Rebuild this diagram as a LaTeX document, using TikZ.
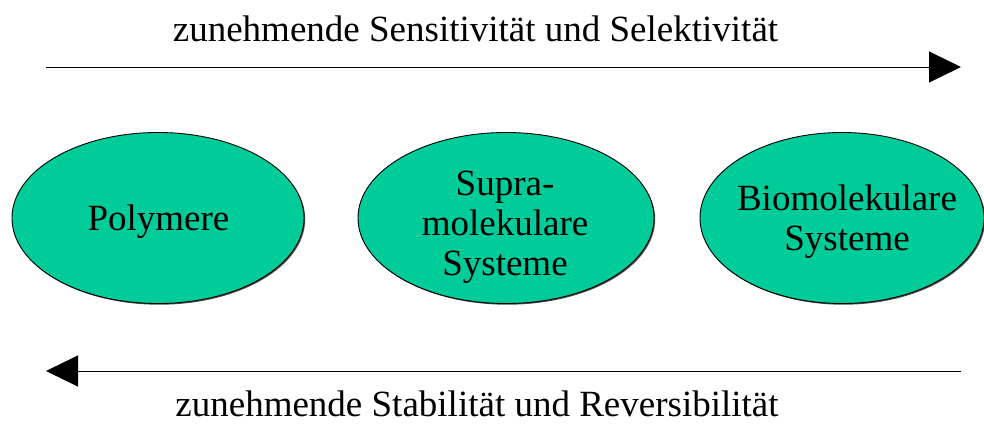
\documentclass[tikz,border=0pt]{standalone}
\usepackage{fontspec}
\setmainfont{Liberation Serif}
\usetikzlibrary{shapes.geometric,arrows.meta,shadows}
\definecolor{blobgreen}{RGB}{0,204,153}
\begin{document}
\begin{tikzpicture}[x=1pt,y=-1pt,
  blob/.style={ellipse, draw=black, line width=0.9pt, fill=blobgreen,
    inner sep=0pt, minimum height=171pt,
    drop shadow={shadow xshift=1.2pt, shadow yshift=-1.2pt, fill=black, opacity=0.7}},
  bigtext/.style={font=\fontsize{37}{40}\selectfont, inner sep=0pt, align=center},
  trend/.style={line width=1pt, -{Triangle[length=32pt, width=31pt]}}]
  \useasboundingbox (0,0) rectangle (984,423);
  % the three classes of systems
  \node[blob, minimum width=292pt] (poly) at (158,218) {};
  \node[blob, minimum width=296pt] (supra) at (506,218) {};
  \node[blob, minimum width=284pt] (bio) at (842,218) {};
  \node[bigtext, anchor=base] (polytxt) at (158.5,230) {Polymere};
  \node[bigtext, anchor=north] (supratxt) at (505,171) {Supra-\\molekulare\\Systeme};
  \node[bigtext, anchor=north] (biotxt) at (847,185) {Biomolekulare\\Systeme};
  % trend arrows
  \coordinate (tl) at (46,67);
  \coordinate (tr) at (961,67);
  \coordinate (bl) at (46,371);
  \coordinate (br) at (961,371);
  \draw[trend] (tl) -- (tr);
  \draw[trend] (br) -- (bl);
  \node[bigtext, anchor=base] (top) at (475.5,41) {zunehmende Sensitivität und Selektivität};
  \node[bigtext, anchor=base, text depth=0pt] (bottom) at (477,416) {zunehmende Stabilität und Reversibilität};
\end{tikzpicture}
\end{document}
